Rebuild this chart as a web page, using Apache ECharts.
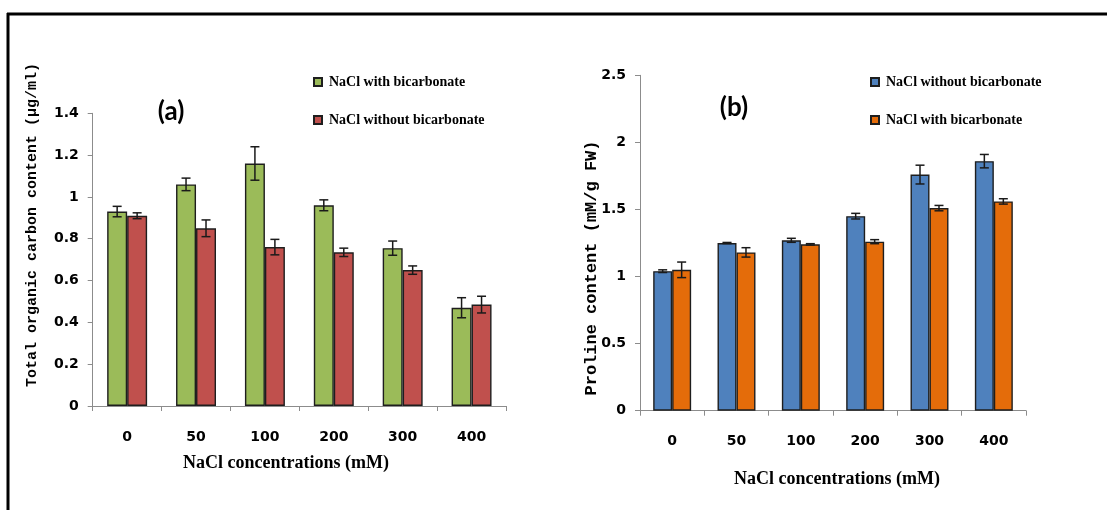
<!DOCTYPE html>
<html>
<head>
<meta charset="utf-8">
<script src="https://cdn.jsdelivr.net/npm/echarts@6/dist/echarts.min.js"></script>
<style>
  html, body { margin: 0; padding: 0; background: #fff; }
  #chart { width: 1107px; height: 510px; }
</style>
</head>
<body>
<div id="chart"></div>
<script>
// NaCl concentrations (mM)
const categories = ['0', '50', '100', '200', '300', '400'];

// (a) Total organic carbon content (µg/ml)
const tocWith = [0.93, 1.06, 1.16, 0.96, 0.755, 0.47];
const tocWithErr = [0.025, 0.03, 0.08, 0.026, 0.034, 0.048];
const tocWithout = [0.91, 0.85, 0.76, 0.735, 0.65, 0.485];
const tocWithoutErr = [0.014, 0.04, 0.037, 0.02, 0.02, 0.04];

// (b) Proline content (mM/g FW)
const prolineWithout = [1.04, 1.25, 1.27, 1.45, 1.76, 1.86];
const prolineWithoutErr = [0.01, 0.004, 0.015, 0.021, 0.07, 0.05];
const prolineWith = [1.05, 1.18, 1.24, 1.26, 1.51, 1.56];
const prolineWithErr = [0.058, 0.035, 0.005, 0.015, 0.02, 0.02];

const LABEL_WITH = 'NaCl with bicarbonate';
const LABEL_WITHOUT = 'NaCl without bicarbonate';

const chart = echarts.init(document.getElementById('chart'), null, { renderer: 'canvas' });

const tickFont = { fontFamily: 'DejaVu Sans', fontWeight: 'bold', fontSize: 14, color: '#000' };
const axisGrey = '#8c8c8c';

// error bars: vertical whisker with caps, centred on a bar of a grouped pair
function errorBars(values, errs, gridIdx, side, barFrac) {
  return {
    type: 'custom',
    xAxisIndex: gridIdx,
    yAxisIndex: gridIdx,
    z: 5,
    silent: true,
    data: values.map((v, i) => [i, v, errs[i]]),
    renderItem: function (params, api) {
      const i = api.value(0), v = api.value(1), e = api.value(2);
      const catW = api.size([1, 0])[0];
      const centre = api.coord([i, v]);
      const x = centre[0] + side * catW * barFrac / 2;
      const yTop = api.coord([i, v + e])[1];
      const yBot = api.coord([i, v - e])[1];
      const cap = 4.5;
      const st = { stroke: '#1a1a1a', lineWidth: 1.5 };
      return {
        type: 'group',
        children: [
          { type: 'line', shape: { x1: x, y1: yTop, x2: x, y2: yBot }, style: st },
          { type: 'line', shape: { x1: x - cap, y1: yTop, x2: x + cap, y2: yTop }, style: st },
          { type: 'line', shape: { x1: x - cap, y1: yBot, x2: x + cap, y2: yBot }, style: st }
        ]
      };
    }
  };
}

function barSeries(name, values, color, gridIdx, width) {
  return {
    name: name,
    type: 'bar',
    xAxisIndex: gridIdx,
    yAxisIndex: gridIdx,
    data: values,
    barWidth: width,
    barGap: '0%',
    itemStyle: { color: color, borderColor: '#1e1e1e', borderWidth: 1.4 }
  };
}

const BAR_A = 0.29, BAR_B = 0.295;

const option = {
  animation: false,
  backgroundColor: '#ffffff',
  grid: [
    { left: 92.7, top: 113.3, width: 413.3, height: 292.7 },
    { left: 640, top: 75.3, width: 386, height: 335.4 }
  ],
  xAxis: [0, 1].map(g => ({
    type: 'category',
    gridIndex: g,
    data: categories,
    axisLine: { lineStyle: { color: axisGrey, width: 1 } },
    axisTick: { show: true, length: 5, lineStyle: { color: axisGrey } },
    axisLabel: Object.assign({ margin: 24 }, tickFont),
    splitLine: { show: false }
  })),
  yAxis: [
    {
      type: 'value', gridIndex: 0, min: 0, max: 1.4, interval: 0.2,
      axisLine: { show: true, lineStyle: { color: axisGrey, width: 1 } },
      axisTick: { show: true, length: 5, lineStyle: { color: axisGrey } },
      axisLabel: Object.assign({ margin: 14 }, tickFont),
      splitLine: { show: false }
    },
    {
      type: 'value', gridIndex: 1, min: 0, max: 2.5, interval: 0.5,
      axisLine: { show: true, lineStyle: { color: axisGrey, width: 1 } },
      axisTick: { show: true, length: 5, lineStyle: { color: axisGrey } },
      axisLabel: Object.assign({ margin: 14 }, tickFont),
      splitLine: { show: false }
    }
  ],
  legend: [
    {
      left: 308, top: 70, orient: 'vertical', itemGap: 24,
      itemWidth: 8, itemHeight: 8, icon: 'rect',
      data: ['a:' + LABEL_WITH, 'a:' + LABEL_WITHOUT],
      formatter: n => n.slice(2),
      textStyle: { fontFamily: 'Liberation Serif', fontWeight: 'bold', fontSize: 14, color: '#000', padding: [0, 0, 0, 2] },
      selectedMode: false
    },
    {
      left: 865, top: 70, orient: 'vertical', itemGap: 24,
      itemWidth: 8, itemHeight: 8, icon: 'rect',
      data: ['b:' + LABEL_WITHOUT, 'b:' + LABEL_WITH],
      formatter: n => n.slice(2),
      textStyle: { fontFamily: 'Liberation Serif', fontWeight: 'bold', fontSize: 14, color: '#000', padding: [0, 0, 0, 2] },
      selectedMode: false
    }
  ],
  series: [
    barSeries('a:' + LABEL_WITH, tocWith, '#9bbb59', 0, (BAR_A * 100) + '%'),
    barSeries('a:' + LABEL_WITHOUT, tocWithout, '#c0504d', 0, (BAR_A * 100) + '%'),
    errorBars(tocWith, tocWithErr, 0, -1, BAR_A),
    errorBars(tocWithout, tocWithoutErr, 0, 1, BAR_A),
    barSeries('b:' + LABEL_WITHOUT, prolineWithout, '#4f81bd', 1, (BAR_B * 100) + '%'),
    barSeries('b:' + LABEL_WITH, prolineWith, '#e46c0a', 1, (BAR_B * 100) + '%'),
    errorBars(prolineWithout, prolineWithoutErr, 1, -1, BAR_B),
    errorBars(prolineWith, prolineWithErr, 1, 1, BAR_B)
  ],
  graphic: [
    // frame along the top and left edges
    { type: 'line', shape: { x1: 7, y1: 14, x2: 1107, y2: 14 }, style: { stroke: '#000', lineWidth: 3 } },
    { type: 'line', shape: { x1: 8, y1: 13, x2: 8, y2: 510 }, style: { stroke: '#000', lineWidth: 3 } },
    // panel tags
    { type: 'text', x: 171, y: 112, style: { text: '(a)', font: 'bold 26px Lato', fill: '#000', textAlign: 'center', textVerticalAlign: 'middle' } },
    { type: 'text', x: 734, y: 108, style: { text: '(b)', font: 'bold 26px Lato', fill: '#000', textAlign: 'center', textVerticalAlign: 'middle' } },
    // axis titles
    { type: 'text', x: 32, y: 225, rotation: Math.PI / 2, style: { text: 'Total organic carbon content (µg/ml)', font: 'bold 15px "Liberation Mono"', fill: '#000', textAlign: 'center', textVerticalAlign: 'middle' } },
    { type: 'text', x: 592, y: 268, rotation: Math.PI / 2, style: { text: 'Proline content (mM/g FW)', font: 'bold 17px "Liberation Mono"', fill: '#000', textAlign: 'center', textVerticalAlign: 'middle' } },
    { type: 'text', x: 286, y: 463, style: { text: 'NaCl concentrations (mM)', font: 'bold 18px "Liberation Serif"', fill: '#000', textAlign: 'center', textVerticalAlign: 'middle' } },
    { type: 'text', x: 837, y: 479, style: { text: 'NaCl concentrations (mM)', font: 'bold 18px "Liberation Serif"', fill: '#000', textAlign: 'center', textVerticalAlign: 'middle' } }
  ]
};

chart.setOption(option);
</script>
</body>
</html>
